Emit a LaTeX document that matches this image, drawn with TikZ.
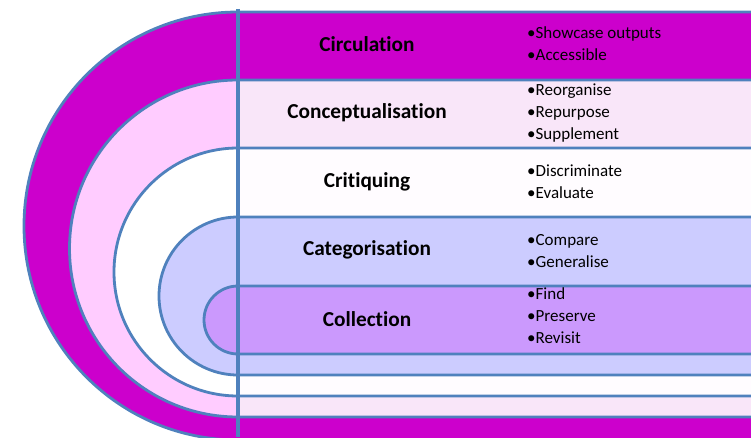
\documentclass[tikz,border=0pt]{standalone}
\usepackage{fontspec}
\setmainfont{Carlito}[Ligatures=NoCommon]

\definecolor{rimblue}{HTML}{4F81BD}
\definecolor{circmag}{HTML}{CC00CC}
\definecolor{concpink}{HTML}{FFCCFF}
\definecolor{concpale}{HTML}{F9E6F9}
\definecolor{critwhite}{HTML}{FFFFFF}
\definecolor{critpale}{HTML}{FFFCFF}
\definecolor{catblue}{HTML}{CCCCFF}
\definecolor{colpurple}{HTML}{CB99FD}

\tikzset{
	stage/.style={font=\fontsize{21.3}{24}\selectfont\bfseries},
	tasks/.style={font=\fontsize{17}{22}\selectfont, align=left, anchor=west, inner sep=0pt},
	rim/.style={draw=rimblue, line width=2.8pt}
}

\begin{document}
\begin{tikzpicture}[x=1pt,y=1pt]
			\useasboundingbox (0,0) rectangle (751,437);
			\clip (0,0) rectangle (751,437);
			% nested half tracks: top edge, radius, arc fill, band fill
			\foreach \ytop/\rad/\lcol/\rcol in {425/214/circmag/circmag, 357/168.5/concpink/concpale, 289/124/critwhite/critpale, 220/79/catblue/catblue, 151/34/colpurple/colpurple}{
				\fill[\lcol] (238,\ytop) arc[start angle=90, end angle=270, radius=\rad pt] -- cycle;
				\fill[\rcol] (238,\ytop) rectangle (760,\ytop-2*\rad);
				\draw[rim] (760,\ytop) -- (238,\ytop) arc[start angle=90, end angle=270, radius=\rad pt] -- (760,\ytop-2*\rad);
			}
			\coordinate (spine top) at (238,428);
			\coordinate (spine bottom) at (238,0);
			\draw[rim, line width=3.2pt] (spine top) -- (spine bottom);
			% stage names
			\node[stage] (circulation) at (367,393) {Circulation};
			\node[stage] (conceptualisation) at (367,324) {Conceptualisation};
			\node[stage] (critiquing) at (367,255) {Critiquing};
			\node[stage] (categorisation) at (367,187) {Categorisation};
			\node[stage] (collection) at (367,118) {Collection};
			% what each stage does
			\node[tasks] (circulation tasks) at (527,393) {•Showcase outputs\\•Accessible};
			\node[tasks] (conceptualisation tasks) at (527,324) {•Reorganise\\•Repurpose\\•Supplement};
			\node[tasks] (critiquing tasks) at (527,255) {•Discriminate\\•Evaluate};
			\node[tasks] (categorisation tasks) at (527,186) {•Compare\\•Generalise};
			\node[tasks] (collection tasks) at (527,121) {•Find\\•Preserve\\•Revisit};
\end{tikzpicture}
\end{document}
